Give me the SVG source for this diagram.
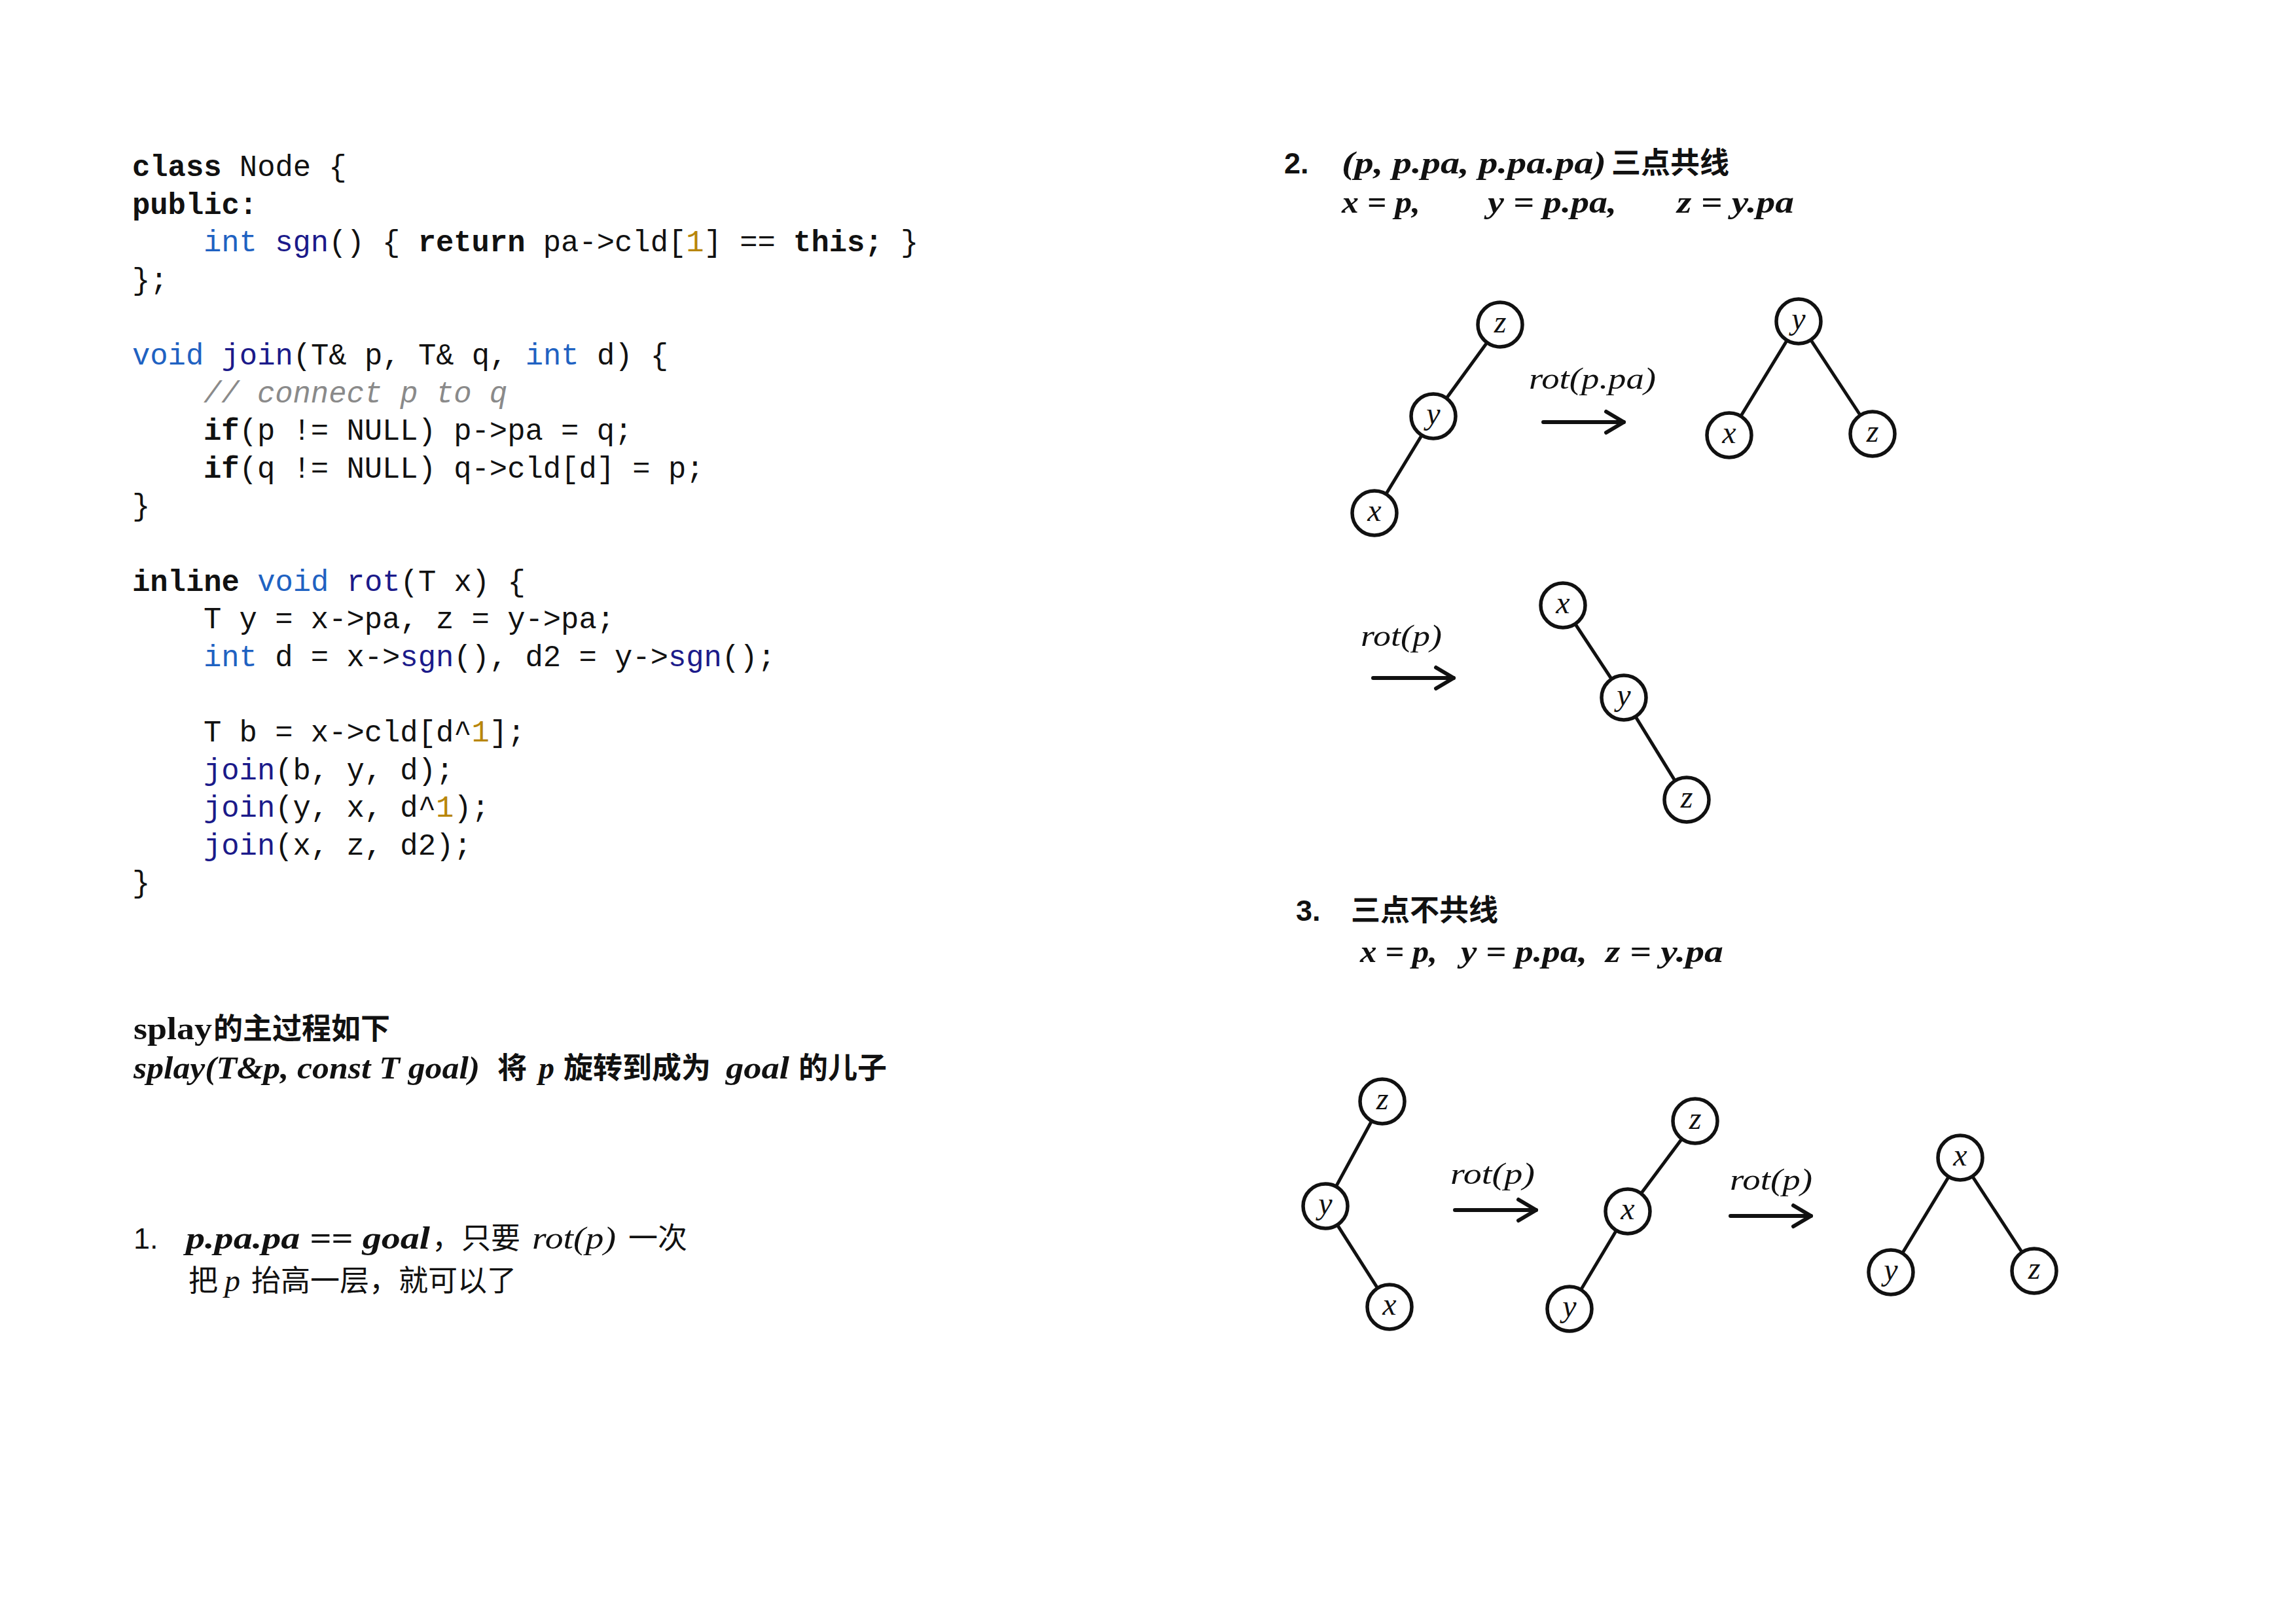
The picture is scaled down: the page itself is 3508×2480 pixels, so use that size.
<svg xmlns="http://www.w3.org/2000/svg" width="3508" height="2480" viewBox="0 0 3508 2480">
<style>
.code{font-family:"Liberation Mono","DejaVu Sans Mono",monospace;font-size:45.5px;fill:#111}
.b{font-weight:bold}
.kw{fill:#1f62c2}
.fn{fill:#1b1a8a}
.num{fill:#b8860b}
.cm{fill:#8a8a8a;font-style:italic}
.math{font-family:"Liberation Serif","Noto Sans CJK SC",serif;font-style:italic;font-size:48px;fill:#111}
.mb{font-weight:bold}
.cjk{font-family:"Liberation Sans","Noto Sans CJK SC",sans-serif;font-size:45px;fill:#111}
.hd{font-family:"Liberation Sans","Noto Sans CJK SC",sans-serif;font-size:45px;font-weight:bold;fill:#111}
.node circle{fill:#fff;stroke:#111;stroke-width:5.5}
.node text{font-family:"Liberation Serif",serif;font-style:italic;font-size:48px;text-anchor:middle;fill:#111}
.edge{stroke:#111;stroke-width:5;fill:none}
.arr{stroke:#111;stroke-width:6;fill:none;stroke-linecap:round;marker-end:url(#chev)}
.lbl{font-family:"Liberation Serif",serif;font-style:italic;font-size:46px;fill:#111}
</style>
<defs>
<marker id="chev" markerUnits="userSpaceOnUse" markerWidth="40" markerHeight="40" viewBox="0 0 40 40" refX="32" refY="20" orient="auto">
<path d="M5 4 L32 20 L5 36" fill="none" stroke="#111" stroke-width="6" stroke-linecap="round" stroke-linejoin="round"/>
</marker>
</defs>
<rect width="3508" height="2480" fill="#fff"/>

<g id="code">
<text class="code" x="202" y="269"><tspan class="b">class</tspan> Node {</text>
<text class="code b" x="202" y="327">public:</text>
<text class="code" x="311" y="384"><tspan class="kw">int</tspan> <tspan class="fn">sgn</tspan>() { <tspan class="b">return</tspan> pa-&gt;cld[<tspan class="num">1</tspan>] == <tspan class="b">this;</tspan> }</text>
<text class="code" x="202" y="442">};</text>
<text class="code" x="202" y="557"><tspan class="kw">void</tspan> <tspan class="fn">join</tspan>(T&amp; p, T&amp; q, <tspan class="kw">int</tspan> d) {</text>
<text class="code cm" x="311" y="615">// connect p to q</text>
<text class="code" x="311" y="672"><tspan class="b">if</tspan>(p != NULL) p-&gt;pa = q;</text>
<text class="code" x="311" y="730"><tspan class="b">if</tspan>(q != NULL) q-&gt;cld[d] = p;</text>
<text class="code" x="202" y="787">}</text>
<text class="code" x="202" y="903"><tspan class="b">inline</tspan> <tspan class="kw">void</tspan> <tspan class="fn">rot</tspan>(T x) {</text>
<text class="code" x="311" y="960">T y = x-&gt;pa, z = y-&gt;pa;</text>
<text class="code" x="311" y="1018"><tspan class="kw">int</tspan> d = x-&gt;<tspan class="fn">sgn</tspan>(), d2 = y-&gt;<tspan class="fn">sgn</tspan>();</text>
<text class="code" x="311" y="1133">T b = x-&gt;cld[d^<tspan class="num">1</tspan>];</text>
<text class="code" x="311" y="1191"><tspan class="fn">join</tspan>(b, y, d);</text>
<text class="code" x="311" y="1248"><tspan class="fn">join</tspan>(y, x, d^<tspan class="num">1</tspan>);</text>
<text class="code" x="311" y="1306"><tspan class="fn">join</tspan>(x, z, d2);</text>
<text class="code" x="202" y="1363">}</text>
</g>

<g id="splay-text">
<text class="math mb" x="204" y="1588" style="font-style:normal" textLength="120" lengthAdjust="spacingAndGlyphs">splay</text>
<text class="hd" x="326" y="1588">的主过程如下</text>
<text class="math mb" x="204" y="1648" textLength="529" lengthAdjust="spacingAndGlyphs">splay(T&amp;p, const T goal)</text>
<text class="hd" x="760" y="1648">将</text>
<text class="math mb" x="823" y="1648">p</text>
<text class="hd" x="861" y="1648">旋转到成为</text>
<text class="math mb" x="1109" y="1648" textLength="97" lengthAdjust="spacingAndGlyphs">goal</text>
<text class="hd" x="1220" y="1648">的儿子</text>

<text class="cjk" x="204" y="1908">1.</text>
<text class="math mb" x="284" y="1908" textLength="373" lengthAdjust="spacingAndGlyphs">p.pa.pa == goal</text>
<text class="cjk" x="660" y="1908">，只要</text>
<text class="math" x="813" y="1908" textLength="128" lengthAdjust="spacingAndGlyphs">rot(p)</text>
<text class="cjk" x="960" y="1908">一次</text>
<text class="cjk" x="288" y="1973">把</text>
<text class="math" x="343" y="1973">p</text>
<text class="cjk" x="384" y="1973">抬高一层，就可以了</text>
</g>

<g id="section2-text">
<text class="hd" x="1962" y="265">2.</text>
<text class="math mb" x="2050" y="265" textLength="404" lengthAdjust="spacingAndGlyphs">(p, p.pa, p.pa.pa)</text>
<text class="hd" x="2462" y="265">三点共线</text>
<text class="math mb" x="2050" y="325" textLength="120" lengthAdjust="spacingAndGlyphs">x = p,</text>
<text class="math mb" x="2273" y="325" textLength="197" lengthAdjust="spacingAndGlyphs">y = p.pa,</text>
<text class="math mb" x="2562" y="325" textLength="179" lengthAdjust="spacingAndGlyphs">z = y.pa</text>
</g>

<g id="section3-text">
<text class="hd" x="1980" y="1407">3.</text>
<text class="hd" x="2064" y="1407">三点不共线</text>
<text class="math mb" x="2078" y="1470" textLength="118" lengthAdjust="spacingAndGlyphs">x = p,</text>
<text class="math mb" x="2232" y="1470" textLength="193" lengthAdjust="spacingAndGlyphs">y = p.pa,</text>
<text class="math mb" x="2453" y="1470" textLength="180" lengthAdjust="spacingAndGlyphs">z = y.pa</text>
</g>

<g id="connectors">
<line class="edge" x1="2292" y1="496" x2="2190" y2="636"/>
<line class="edge" x1="2190" y1="636" x2="2100" y2="784"/>
<line class="edge" x1="2748" y1="491" x2="2642" y2="665"/>
<line class="edge" x1="2748" y1="491" x2="2861" y2="663"/>
<line class="edge" x1="2388" y1="925" x2="2481" y2="1066"/>
<line class="edge" x1="2481" y1="1066" x2="2577" y2="1222"/>
<line class="edge" x1="2112" y1="1683" x2="2025" y2="1843"/>
<line class="edge" x1="2025" y1="1843" x2="2123" y2="1997"/>
<line class="edge" x1="2590" y1="1713" x2="2487" y2="1851"/>
<line class="edge" x1="2487" y1="1851" x2="2398" y2="2000"/>
<line class="edge" x1="2995" y1="1769" x2="2889" y2="1944"/>
<line class="edge" x1="2995" y1="1769" x2="3108" y2="1942"/>
<line class="arr" x1="2358" y1="645" x2="2481" y2="645"/>
<line class="arr" x1="2098" y1="1036" x2="2221" y2="1036"/>
<line class="arr" x1="2223" y1="1849" x2="2347" y2="1849"/>
<line class="arr" x1="2644" y1="1858" x2="2767" y2="1858"/>
<text class="lbl" x="2336" y="594" textLength="194" lengthAdjust="spacingAndGlyphs">rot(p.pa)</text>
<text class="lbl" x="2079" y="987" textLength="124" lengthAdjust="spacingAndGlyphs">rot(p)</text>
<text class="lbl" x="2216" y="1809" textLength="129" lengthAdjust="spacingAndGlyphs">rot(p)</text>
<text class="lbl" x="2643" y="1818" textLength="126" lengthAdjust="spacingAndGlyphs">rot(p)</text>
</g>

<g id="s2-left-z" class="node"><circle cx="2292" cy="496" r="34"/><text x="2292" y="508">z</text></g>
<g id="s2-left-y" class="node"><circle cx="2190" cy="636" r="34"/><text x="2190" y="648">y</text></g>
<g id="s2-left-x" class="node"><circle cx="2100" cy="784" r="34"/><text x="2100" y="796">x</text></g>
<g id="s2-right-y" class="node"><circle cx="2748" cy="491" r="34"/><text x="2748" y="503">y</text></g>
<g id="s2-right-x" class="node"><circle cx="2642" cy="665" r="34"/><text x="2642" y="677">x</text></g>
<g id="s2-right-z" class="node"><circle cx="2861" cy="663" r="34"/><text x="2861" y="675">z</text></g>
<g id="s2-mid-x" class="node"><circle cx="2388" cy="925" r="34"/><text x="2388" y="937">x</text></g>
<g id="s2-mid-y" class="node"><circle cx="2481" cy="1066" r="34"/><text x="2481" y="1078">y</text></g>
<g id="s2-mid-z" class="node"><circle cx="2577" cy="1222" r="34"/><text x="2577" y="1234">z</text></g>

<g id="s3-a-z" class="node"><circle cx="2112" cy="1683" r="34"/><text x="2112" y="1695">z</text></g>
<g id="s3-a-y" class="node"><circle cx="2025" cy="1843" r="34"/><text x="2025" y="1855">y</text></g>
<g id="s3-a-x" class="node"><circle cx="2123" cy="1997" r="34"/><text x="2123" y="2009">x</text></g>
<g id="s3-b-z" class="node"><circle cx="2590" cy="1713" r="34"/><text x="2590" y="1725">z</text></g>
<g id="s3-b-x" class="node"><circle cx="2487" cy="1851" r="34"/><text x="2487" y="1863">x</text></g>
<g id="s3-b-y" class="node"><circle cx="2398" cy="2000" r="34"/><text x="2398" y="2012">y</text></g>
<g id="s3-c-x" class="node"><circle cx="2995" cy="1769" r="34"/><text x="2995" y="1781">x</text></g>
<g id="s3-c-y" class="node"><circle cx="2889" cy="1944" r="34"/><text x="2889" y="1956">y</text></g>
<g id="s3-c-z" class="node"><circle cx="3108" cy="1942" r="34"/><text x="3108" y="1954">z</text></g>
</svg>
